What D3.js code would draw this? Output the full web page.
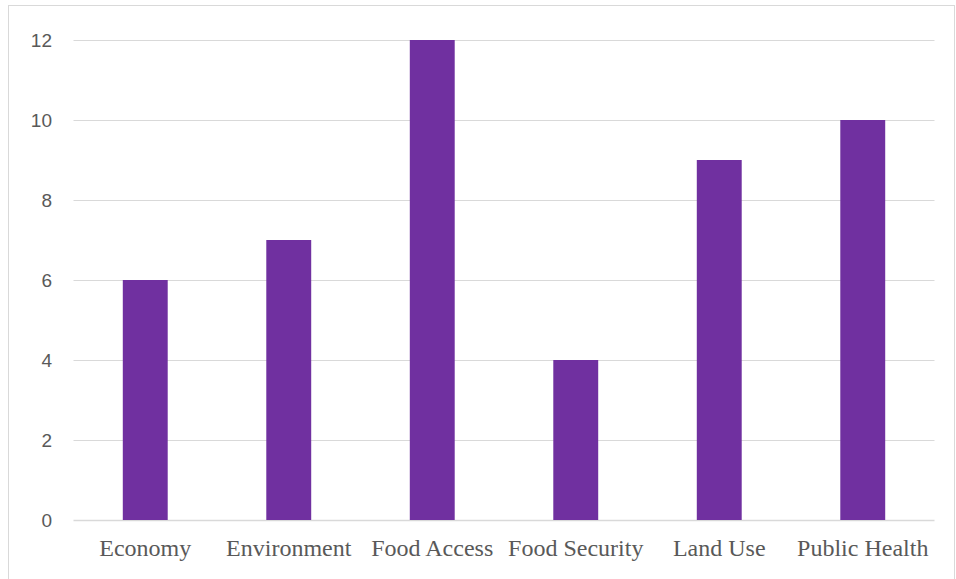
<!DOCTYPE html>
<html>
<head>
<meta charset="utf-8">
<script src="https://cdn.jsdelivr.net/npm/d3@7"></script>
<style>
  html, body { margin: 0; padding: 0; background: #fff; }
  svg { display: block; }
</style>
</head>
<body>
<svg id="chart" width="956" height="579"></svg>
<script>
// Number of items per topic
const categories = ["Economy", "Environment", "Food Access", "Food Security", "Land Use", "Public Health"];
const counts = [6, 7, 12, 4, 9, 10];
const yTicks = [0, 2, 4, 6, 8, 10, 12];

const svg = d3.select("#chart");
const W = 956, H = 579;
const plot = { left: 73.5, right: 934.5, top: 40, bottom: 520 };

// Chart frame
svg.append("rect")
  .attr("x", 8.5).attr("y", 5.5)
  .attr("width", 946).attr("height", 580)
  .attr("fill", "#fff")
  .attr("stroke", "#d9d9d9").attr("stroke-width", 1);

const x = d3.scaleBand()
  .domain(categories)
  .range([plot.left, plot.right])
  .paddingInner(0.687)
  .paddingOuter(0.3435);

const y = d3.scaleLinear()
  .domain([0, 12])
  .range([plot.bottom, plot.top]);

// Horizontal gridlines
svg.append("g")
  .selectAll("line")
  .data(yTicks)
  .join("line")
  .attr("x1", plot.left).attr("x2", plot.right)
  .attr("y1", d => Math.round(y(d)) + 0.5)
  .attr("y2", d => Math.round(y(d)) + 0.5)
  .attr("stroke", "#d9d9d9")
  .attr("stroke-width", d => d === 0 ? 1.5 : 1.2);

// Bars
svg.append("g")
  .selectAll("rect")
  .data(categories.map((c, i) => ({ c, v: counts[i] })))
  .join("rect")
  .attr("x", d => x(d.c))
  .attr("width", x.bandwidth())
  .attr("y", d => y(d.v))
  .attr("height", d => y(0) - y(d.v))
  .attr("fill", "#7030a0");

// Y axis labels
const yAxis = d3.axisLeft(y).tickValues(yTicks).tickSize(0).tickPadding(0);
const gy = svg.append("g")
  .attr("transform", `translate(52,0)`)
  .call(yAxis);
gy.select(".domain").remove();
gy.selectAll("text")
  .attr("font-family", "'Liberation Sans', Arial, sans-serif")
  .attr("font-size", 19)
  .attr("fill", "#595959");

// X axis labels
const xAxis = d3.axisBottom(x).tickSize(0).tickPadding(0);
const gx = svg.append("g")
  .attr("transform", `translate(0,${plot.bottom + 19})`)
  .call(xAxis);
gx.select(".domain").remove();
gx.selectAll("text")
  .attr("font-family", "'Liberation Serif', 'Times New Roman', serif")
  .attr("font-size", 24)
  .attr("fill", "#595959");
</script>
</body>
</html>
